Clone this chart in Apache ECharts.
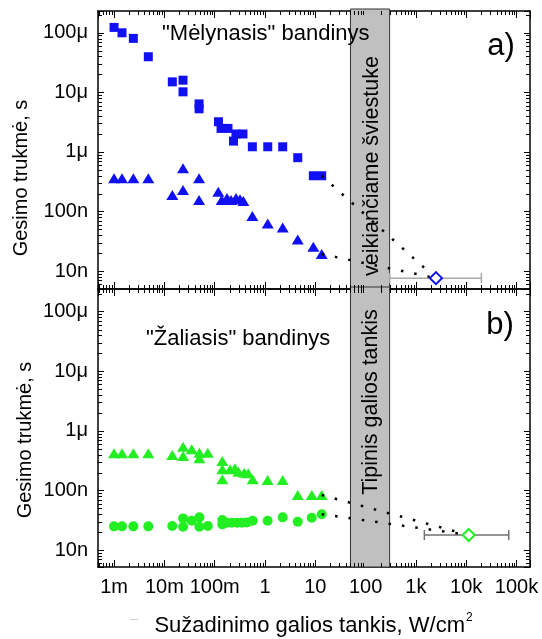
<!DOCTYPE html>
<html>
<head>
<meta charset="UTF-8">
<title>Gesimo trukmė</title>
<script src="https://cdn.jsdelivr.net/npm/echarts@6/dist/echarts.min.js"></script>
<style>
    body { margin: 0; background: #fff; }
    #chart { width: 542px; height: 639px; }
</style>
</head>
<body>
<div id="chart"></div>
<script>
// [galios tankis W/cm2, gesimo trukme s]
var blueSquares = [
    [1e-3, 1.23e-4], [1.44e-3, 1.0e-4], [2.42e-3, 8.05e-5], [4.8e-3, 3.96e-5],
    [1.44e-2, 1.5e-5], [2.35e-2, 1.6e-5], [2.35e-2, 1.02e-5],
    [4.9e-2, 6.4e-6], [4.9e-2, 5.3e-6],
    [0.119, 3.21e-6], [0.134, 2.48e-6], [0.184, 2.48e-6], [0.265, 2.0e-6], [0.365, 2.0e-6], [0.237, 1.52e-6],
    [0.561, 1.22e-6], [1.135, 1.22e-6], [2.25, 1.22e-6], [4.48, 8.0e-7], [9.15, 3.98e-7], [13.4, 3.98e-7]
];
var blueTriangles = [
    [1e-3, 3.6e-7], [1.44e-3, 3.6e-7], [2.42e-3, 3.6e-7], [4.8e-3, 3.6e-7],
    [1.44e-2, 1.89e-7], [2.35e-2, 5.3e-7], [2.35e-2, 2.3e-7], [4.9e-2, 3.6e-7], [4.9e-2, 1.56e-7],
    [0.118, 2.14e-7], [0.138, 1.56e-7], [0.176, 1.68e-7], [0.212, 1.56e-7], [0.266, 1.68e-7], [0.319, 1.6e-7], [0.372, 1.5e-7],
    [0.561, 8.4e-8], [1.135, 6.3e-8], [2.25, 5.4e-8], [4.48, 3.4e-8], [9.15, 2.56e-8], [13.4, 1.93e-8]
];
var greenTriangles = [
    [1e-3, 4.2e-7], [1.44e-3, 4.2e-7], [2.42e-3, 4.2e-7], [4.8e-3, 4.2e-7],
    [1.44e-2, 3.93e-7], [2.36e-2, 5.4e-7], [2.36e-2, 3.8e-7], [3.5e-2, 4.9e-7], [4.97e-2, 4.3e-7], [4.97e-2, 3.46e-7], [7.3e-2, 4.3e-7],
    [0.142, 3.12e-7], [0.142, 2.26e-7], [0.142, 1.54e-7], [0.202, 2.26e-7], [0.253, 2.35e-7], [0.297, 2.07e-7], [0.388, 1.99e-7], [0.466, 1.94e-7], [0.57, 1.54e-7],
    [1.13, 1.5e-7], [2.25, 1.5e-7], [4.48, 8.4e-8], [8.5, 8.4e-8], [13.4, 8.4e-8]
];
var greenCircles = [
    [1e-3, 2.5e-8], [1.44e-3, 2.5e-8], [2.42e-3, 2.5e-8], [4.8e-3, 2.5e-8],
    [1.44e-2, 2.53e-8], [2.36e-2, 3.4e-8], [2.36e-2, 2.46e-8], [3.5e-2, 3.1e-8], [4.97e-2, 3.54e-8], [4.97e-2, 2.46e-8], [7.3e-2, 2.53e-8],
    [0.142, 3.19e-8], [0.142, 2.7e-8], [0.174, 2.87e-8], [0.22, 2.87e-8], [0.278, 2.87e-8], [0.35, 2.87e-8], [0.44, 2.9e-8], [0.57, 3.1e-8],
    [1.13, 3.1e-8], [2.25, 3.54e-8], [4.48, 2.99e-8], [8.5, 3.48e-8], [13.4, 4.0e-8]
];
var blueDiamond = [[2.5e3, 7.6e-9]];
var greenDiamond = [[1.12e4, 1.79e-8]];
// [nuo, iki, y]
var blueErr = [[300, 2.0e4, 7.6e-9]];
var greenErr = [[1.47e3, 7.0e4, 1.79e-8]];
var blueSquareTrend = [[13.4, 3.98e-7], [2.5e3, 7.6e-9]];
var blueTriangleTrend = [[13.4, 1.93e-8], [2.5e3, 7.6e-9]];
var greenTriangleTrend = [[13.4, 8.4e-8], [1.12e4, 1.79e-8]];
var greenCircleTrend = [[13.4, 4.0e-8], [1.12e4, 1.79e-8]];
var band = [50, 300];

var xTickLabels = ['1m', '10m', '100m', '1', '10', '100', '1k', '10k', '100k']; // 1e-3 .. 1e5
var yTickLabels = ['10n', '100n', '1\u03bc', '10\u03bc', '100\u03bc'];        // 1e-8 .. 1e-4
var minorSteps = [2, 3, 4, 5, 6, 7, 8, 9];

var xRange = [4.8e-4, 1.85e5];
var yRangeA = [5e-9, 2.32e-4];
var yRangeB = [5.2e-9, 2.4e-4];

var BLUE = '#1010f2';
var GREEN = '#22ee22';
var FONT = '"Liberation Sans", Arial, sans-serif';

function decadeLabel(labels, first) {
    return function (v) {
        var l = Math.log10(v), e = Math.round(l);
        if (Math.abs(l - e) > 1e-6) return '';
        return labels[e - first] || '';
    };
}

function minorValues(r) {
    var out = [];
    for (var e = Math.floor(Math.log10(r[0])); e <= Math.ceil(Math.log10(r[1])); e++) {
        minorSteps.forEach(function (m) {
            var v = m * Math.pow(10, e);
            if (v > r[0] && v < r[1]) out.push(v);
        });
    }
    return out;
}

function xAxisDef(grid, pos, showLabel) {
    return {
        type: 'log', gridIndex: grid, position: pos, min: xRange[0], max: xRange[1], splitNumber: 10,
        axisLine: { onZero: false, lineStyle: { color: '#000', width: 1.5 } },
        axisTick: { inside: true, length: 7, lineStyle: { color: '#000', width: 1 } },
        axisLabel: { show: showLabel, formatter: decadeLabel(xTickLabels, -3), color: '#000',
            fontSize: 20, fontFamily: FONT, margin: 10 },
        splitLine: { show: false }
    };
}
function yAxisDef(grid, pos, range, showLabel) {
    return {
        type: 'log', gridIndex: grid, position: pos, min: range[0], max: range[1], splitNumber: 10,
        axisLine: { onZero: false, lineStyle: { color: '#000', width: 1.5 } },
        axisTick: { inside: true, length: 6, lineStyle: { color: '#000', width: 1 } },
        axisLabel: { show: showLabel, formatter: decadeLabel(yTickLabels, -8), color: '#000',
            fontSize: 20, fontFamily: FONT, margin: 10 },
        splitLine: { show: false }
    };
}

function renderMinor(params, api) {
    var cs = params.coordSys;
    var p = api.coord([api.value(0), api.value(1)]);
    var st = { stroke: '#000', lineWidth: 1 };
    var t = 4;
    if (api.value(2) === 0) {
        var x = Math.round(p[0]) + 0.5, b = cs.y + cs.height;
        return { type: 'group', children: [
            { type: 'line', shape: { x1: x, y1: b, x2: x, y2: b - t }, style: st },
            { type: 'line', shape: { x1: x, y1: cs.y, x2: x, y2: cs.y + t }, style: st }
        ] };
    }
    var y = Math.round(p[1]) + 0.5, r = cs.x + cs.width;
    return { type: 'group', children: [
        { type: 'line', shape: { x1: cs.x, y1: y, x2: cs.x + t, y2: y }, style: st },
        { type: 'line', shape: { x1: r, y1: y, x2: r - t, y2: y }, style: st }
    ] };
}

function minorSeries(axisIdx, yRange) {
    var ymid = Math.sqrt(yRange[0] * yRange[1]);
    var data = [];
    minorValues(xRange).forEach(function (v) { data.push([v, ymid, 0]); });
    minorValues(yRange).forEach(function (v) { data.push([1, v, 1]); });
    return {
        type: 'custom', xAxisIndex: axisIdx, yAxisIndex: axisIdx, data: data,
        renderItem: renderMinor, silent: true, z: 6, encode: { x: 0, y: 1 }
    };
}

function errSeries(axisIdx, data, color) {
    return {
        type: 'custom', xAxisIndex: axisIdx, yAxisIndex: axisIdx, data: data, silent: true, z: 3,
        encode: { x: [0, 1], y: 2 },
        renderItem: function (params, api) {
            var a = api.coord([api.value(0), api.value(2)]);
            var b = api.coord([api.value(1), api.value(2)]);
            var st = { stroke: color, lineWidth: 1.5 };
            return { type: 'group', children: [
                { type: 'line', shape: { x1: a[0], y1: a[1], x2: b[0], y2: b[1] }, style: st },
                { type: 'line', shape: { x1: a[0], y1: a[1] - 5, x2: a[0], y2: a[1] + 5 }, style: st },
                { type: 'line', shape: { x1: b[0], y1: b[1] - 5, x2: b[0], y2: b[1] + 5 }, style: st }
            ] };
        }
    };
}

function scatter(axisIdx, data, symbol, size, color) {
    return {
        type: 'scatter', xAxisIndex: axisIdx, yAxisIndex: axisIdx, data: data, symbol: symbol,
        symbolSize: size, itemStyle: { color: color, opacity: 1 }, z: 3, silent: true
    };
}

function diamond(axisIdx, data, color) {
    return {
        type: 'scatter', xAxisIndex: axisIdx, yAxisIndex: axisIdx, data: data, symbol: 'diamond',
        symbolSize: [12, 12], itemStyle: { color: '#fff', borderColor: color, borderWidth: 2, opacity: 1 },
        z: 5, silent: true
    };
}

function trend(axisIdx, data) {
    return {
        type: 'line', xAxisIndex: axisIdx, yAxisIndex: axisIdx, data: data, symbol: 'none', silent: true, z: 4,
        lineStyle: { color: '#000', width: 2.5, type: [2.5, 11] }
    };
}

// pilka juosta: tipinis galios tankis veikianciame sviestuke
function bandSeries(axisIdx, yRange) {
    return {
        type: 'custom', xAxisIndex: axisIdx, yAxisIndex: axisIdx, z: 1, silent: true,
        data: [[band[0], band[1], yRange[0]]], encode: { x: [0, 1], y: 2 },
        renderItem: function (params, api) {
            var cs = params.coordSys;
            var a = api.coord([api.value(0), api.value(2)]);
            var b = api.coord([api.value(1), api.value(2)]);
            return {
                type: 'rect',
                shape: { x: a[0], y: cs.y - 2, width: b[0] - a[0], height: cs.height + 2 },
                style: { fill: '#c0c0c0', stroke: '#333', lineWidth: 1 }
            };
        }
    };
}

function txt(x, y, text, size, opts) {
    opts = opts || {};
    return {
        type: 'text', x: x, y: y, rotation: opts.rot || 0, z: 20, silent: true,
        style: { text: text, font: size + 'px ' + FONT, fill: opts.fill || '#000',
            align: opts.align || 'center', verticalAlign: 'middle' }
    };
}

var chart = echarts.init(document.getElementById('chart'), null, { renderer: 'canvas' });
chart.setOption({
    animation: false,
    backgroundColor: '#fff',
    grid: [
        { left: 98, top: 11, width: 432, height: 278, outerBoundsMode: 'none' },
        { left: 98, top: 289, width: 432, height: 278, outerBoundsMode: 'none' }
    ],
    xAxis: [
        xAxisDef(0, 'bottom', false), xAxisDef(0, 'top', false),
        xAxisDef(1, 'bottom', true), xAxisDef(1, 'top', false)
    ],
    yAxis: [
        yAxisDef(0, 'left', yRangeA, true), yAxisDef(0, 'right', yRangeA, false),
        yAxisDef(1, 'left', yRangeB, true), yAxisDef(1, 'right', yRangeB, false)
    ],
    series: [
        bandSeries(0, yRangeA),
        scatter(0, blueSquares, 'rect', 9, BLUE),
        scatter(0, blueTriangles, 'triangle', [12, 10], BLUE),
        errSeries(0, blueErr, '#a8a8a8'),
        diamond(0, blueDiamond, BLUE),
        trend(0, blueSquareTrend),
        trend(0, blueTriangleTrend),
        minorSeries(0, yRangeA),

        bandSeries(2, yRangeB),
        scatter(2, greenTriangles, 'triangle', [12, 10], GREEN),
        scatter(2, greenCircles, 'circle', 10, GREEN),
        errSeries(2, greenErr, '#707070'),
        diamond(2, greenDiamond, GREEN),
        trend(2, greenTriangleTrend),
        trend(2, greenCircleTrend),
        minorSeries(2, yRangeB)
    ],
    graphic: [
        txt(162, 34, '"M\u0117lynasis" bandinys', 22, { align: 'left' }),
        txt(146, 339, '"\u017daliasis" bandinys', 22, { align: 'left' }),
        txt(501, 46, 'a)', 31),
        txt(500, 325, 'b)', 31),
        txt(372, 166, 'veikian\u010diame \u0161viestuke', 21.5, { rot: Math.PI / 2 }),
        txt(371, 402, 'Tipinis galios tankis', 21.5, { rot: Math.PI / 2 }),
        txt(21, 178, 'Gesimo trukm\u0117, s', 20, { rot: Math.PI / 2 }),
        txt(25, 440, 'Gesimo trukm\u0117, s', 20, { rot: Math.PI / 2 }),
        txt(465, 626, 'Su\u017eadinimo galios tankis, W/cm', 22, { align: 'right' }),
        txt(466, 618, '2', 12, { align: 'left' }),
        { type: 'line', silent: true, shape: { x1: 130, y1: 619.5, x2: 138, y2: 619.5 },
          style: { stroke: '#d0d0d0', lineWidth: 1 } }
    ]
});
</script>
</body>
</html>
